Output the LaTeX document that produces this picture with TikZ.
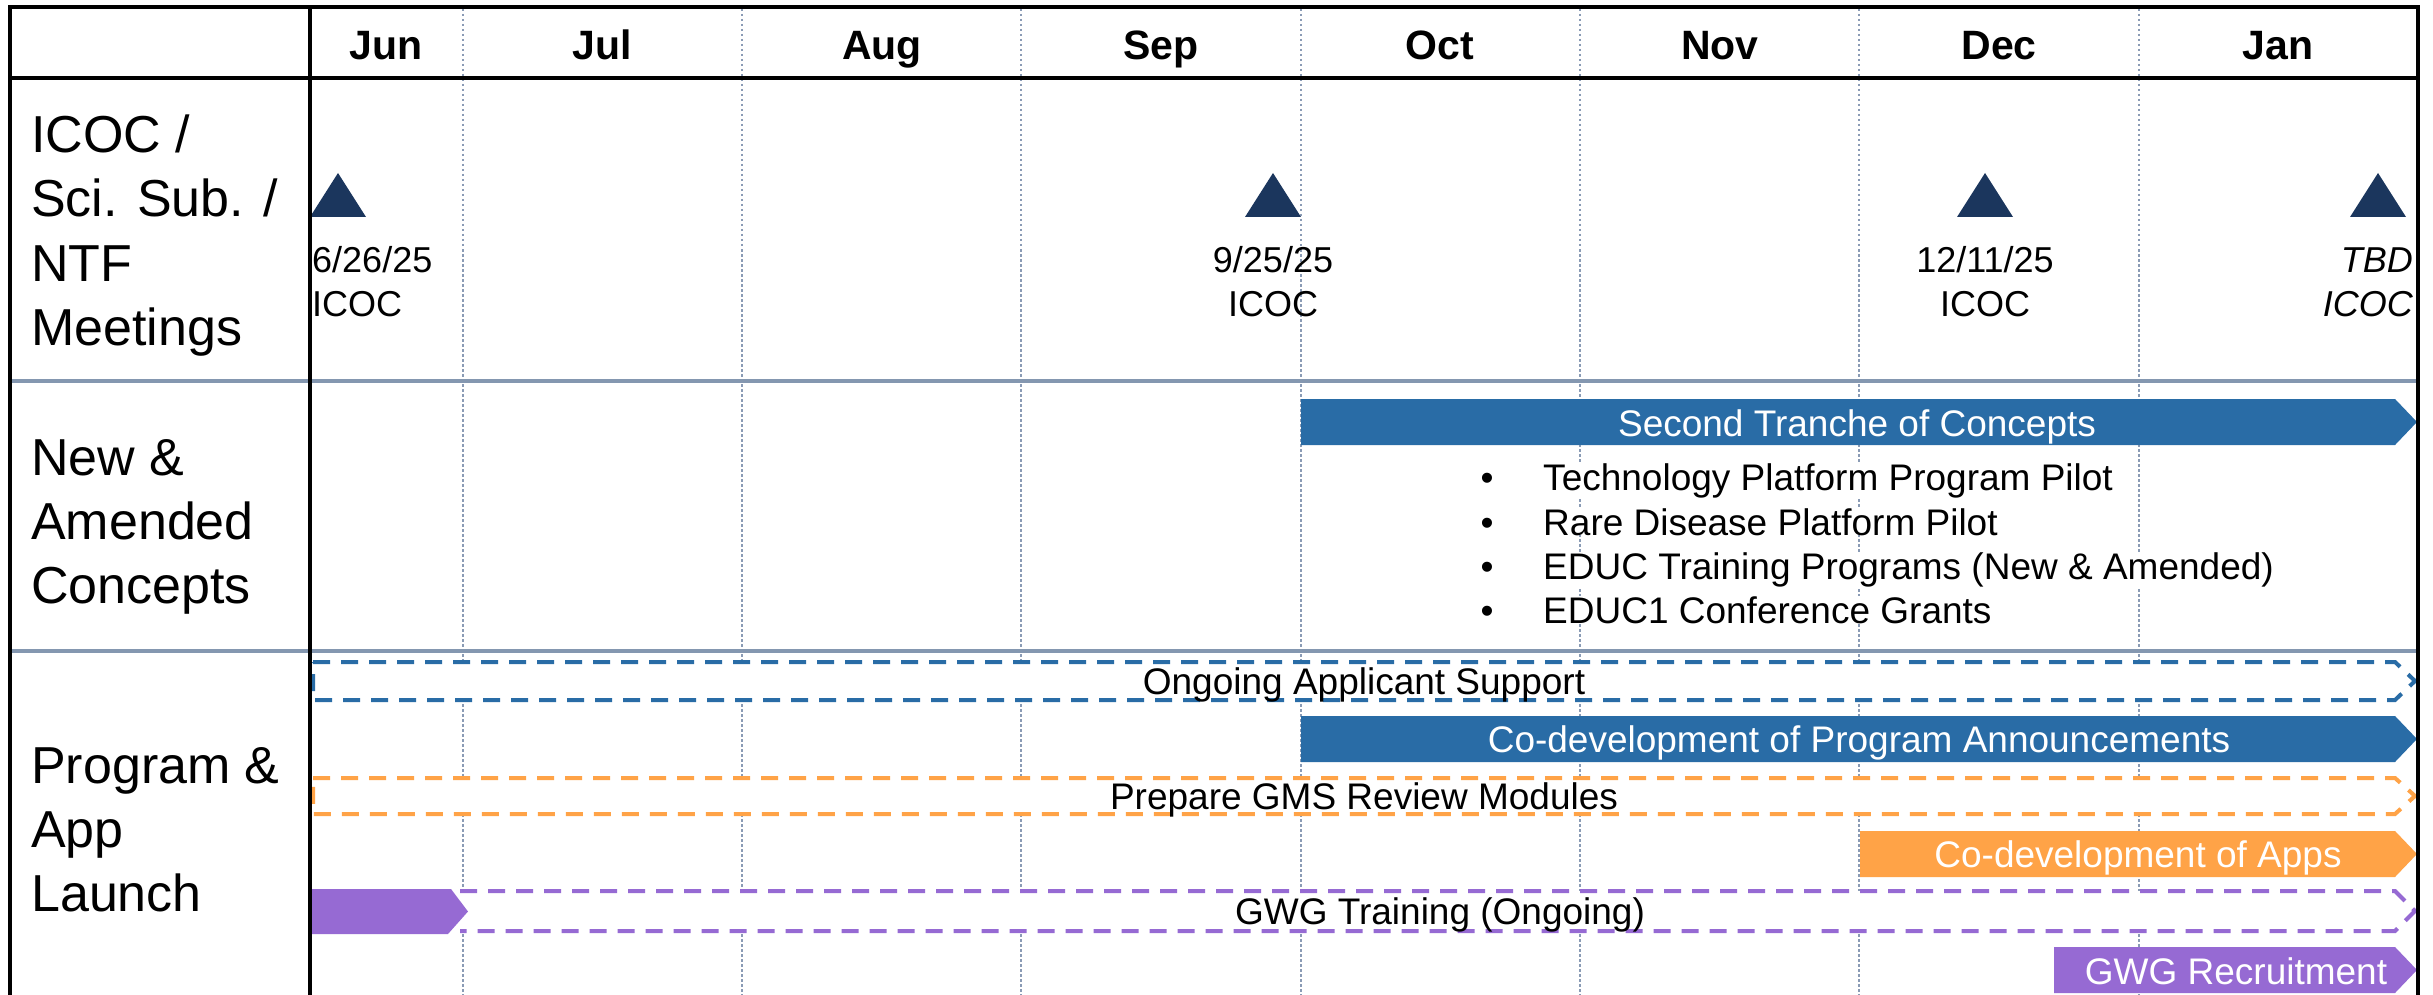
\documentclass[tikz,border=0pt]{standalone}
\usepackage{fontspec}
\setmainfont{Liberation Sans}
\definecolor{barblue}{HTML}{296CA6}
\definecolor{barorange}{HTML}{FFA347}
\definecolor{barpurple}{HTML}{966AD3}
\definecolor{navy}{HTML}{1B365D}
\definecolor{rowc}{HTML}{8497B0}
\definecolor{dotc}{HTML}{8A9BB5}
\begin{document}
\begin{tikzpicture}[x=1pt,y=-1pt,
  txt/.style={inner sep=0pt, font=\fontsize{37}{44}\selectfont, anchor=base},
  wtxt/.style={txt, text=white},
  mon/.style={inner sep=0pt, font=\fontsize{41}{48}\selectfont\bfseries, anchor=base},
  rowlab/.style={inner sep=0pt, font=\fontsize{52}{64}\selectfont, anchor=base west},
  meet/.style={inner sep=0pt, font=\fontsize{36}{44}\selectfont},
  bul/.style={inner sep=0pt, font=\fontsize{37}{44}\selectfont, anchor=base west, fill=white},
  gridln/.style={line width=3.5pt, black},
  rowsep/.style={line width=4pt, rowc},
  monthsep/.style={line width=2.2pt, dotc, dash pattern=on 2.5pt off 2.5pt},
  dbar/.style={line width=4pt, dash pattern=on 17pt off 11pt, fill=white},
  tri/.style={fill=navy}
]
\useasboundingbox (0,0) rectangle (2433,995);
\clip (0,0) rectangle (2433,995);
\fill[white] (0,0) rectangle (2433,995);

% month boundaries (dotted)
\foreach \x in {463,742,1021,1301,1580,1859,2139}
  \draw[monthsep] (\x,9) -- (\x,995);

% row separators
\draw[rowsep] (10,381) -- (2418,381);
\draw[rowsep] (10,651) -- (2418,651);

% month headers
\node[mon] (mJun) at (386,60) {Jun};
\node[mon] (mJul) at (602,60) {Jul};
\node[mon] (mAug) at (882,60) {Aug};
\node[mon] (mSep) at (1161,60) {Sep};
\node[mon] (mOct) at (1440,60) {Oct};
\node[mon] (mNov) at (1720,60) {Nov};
\node[mon] (mDec) at (1999,60) {Dec};
\node[mon] (mJan) at (2278,60) {Jan};

% row labels
\node[rowlab] (r1a) at (31,153) {ICOC /};
\node[rowlab] (r1b) at (31,217) {Sci. Sub. /};
\node[rowlab] (r1c) at (31,281) {NTF};
\node[rowlab] (r1d) at (31,345) {Meetings};
\node[rowlab] (r2a) at (31,475) {New \&};
\node[rowlab] (r2b) at (31,539) {Amended};
\node[rowlab] (r2c) at (31,603) {Concepts};
\node[rowlab] (r3a) at (31,783) {Program \&};
\node[rowlab] (r3b) at (31,847) {App};
\node[rowlab] (r3c) at (31,911) {Launch};

% meetings
\fill[tri] (310,217) -- (338,173) -- (366,217) -- cycle;
\fill[tri] (1245,217) -- (1273,173) -- (1301,217) -- cycle;
\fill[tri] (1957,217) -- (1985,173) -- (2013,217) -- cycle;
\fill[tri] (2350,217) -- (2378,173) -- (2406,217) -- cycle;
\node[meet, anchor=base west] (m1a) at (312,272) {6/26/25};
\node[meet, anchor=base west] (m1b) at (312,316) {ICOC};
\node[meet, anchor=base] (m2a) at (1273,272) {9/25/25};
\node[meet, anchor=base] (m2b) at (1273,316) {ICOC};
\node[meet, anchor=base] (m3a) at (1985,272) {12/11/25};
\node[meet, anchor=base] (m3b) at (1985,316) {ICOC};
\node[meet, anchor=base east] (m4a) at (2413,272) {\itshape TBD};
\node[meet, anchor=base east] (m4b) at (2413,316) {\itshape ICOC};

% new & amended concepts
\fill[barblue] (1301,399) -- (2395,399) -- (2417,422) -- (2395,445) -- (1301,445) -- cycle;
\node[wtxt] (tranche) at (1857,436) {Second Tranche of Concepts};
\node[bul, anchor=base] (b1) at (1487,490) {\textbullet};
\node[bul, anchor=base] (b2) at (1487,535) {\textbullet};
\node[bul, anchor=base] (b3) at (1487,579) {\textbullet};
\node[bul, anchor=base] (b4) at (1487,623) {\textbullet};
\node[bul] (l1) at (1543,490) {Technology Platform Program Pilot};
\node[bul] (l2) at (1543,535) {Rare Disease Platform Pilot};
\node[bul] (l3) at (1543,579) {EDUC Training Programs (New \& Amended)};
\node[bul] (l4) at (1543,623) {EDUC1 Conference Grants};

% program & app launch
\draw[dbar, draw=barblue] (313,662) -- (2395,662) -- (2415,681) -- (2395,700) -- (313,700) -- cycle;
\node[txt] (support) at (1364,694) {Ongoing Applicant Support};

\fill[barblue] (1301,716) -- (2395,716) -- (2417,739) -- (2395,762) -- (1301,762) -- cycle;
\node[wtxt] (announce) at (1859,752) {Co-development of Program Announcements};

\draw[dbar, draw=barorange] (313,778) -- (2395,778) -- (2415,796) -- (2395,814) -- (313,814) -- cycle;
\node[txt] (gms) at (1364,809) {Prepare GMS Review Modules};

\fill[barorange] (1860,831) -- (2395,831) -- (2417,854) -- (2395,877) -- (1860,877) -- cycle;
\node[wtxt] (apps) at (2138,867) {Co-development of Apps};

\draw[dbar, draw=barpurple] (460,891) -- (2395,891) -- (2415,911) -- (2395,931) -- (460,931);
\fill[barpurple] (311,889) -- (451,889) -- (468,911.5) -- (448,934) -- (311,934) -- cycle;
\node[txt] (gwgtrain) at (1440,924) {GWG Training (Ongoing)};

\fill[barpurple] (2054,947) -- (2395,947) -- (2417,970) -- (2395,993) -- (2054,993) -- cycle;
\node[wtxt] (gwgrec) at (2236,984) {GWG Recruitment};

% grid borders
\draw[gridln] (10,78) -- (2418,78);
\draw[gridln] (310,7) -- (310,1000);
\draw[gridln] (10,1000) -- (10,7) -- (2418,7) -- (2418,1000);
\end{tikzpicture}
\end{document}
